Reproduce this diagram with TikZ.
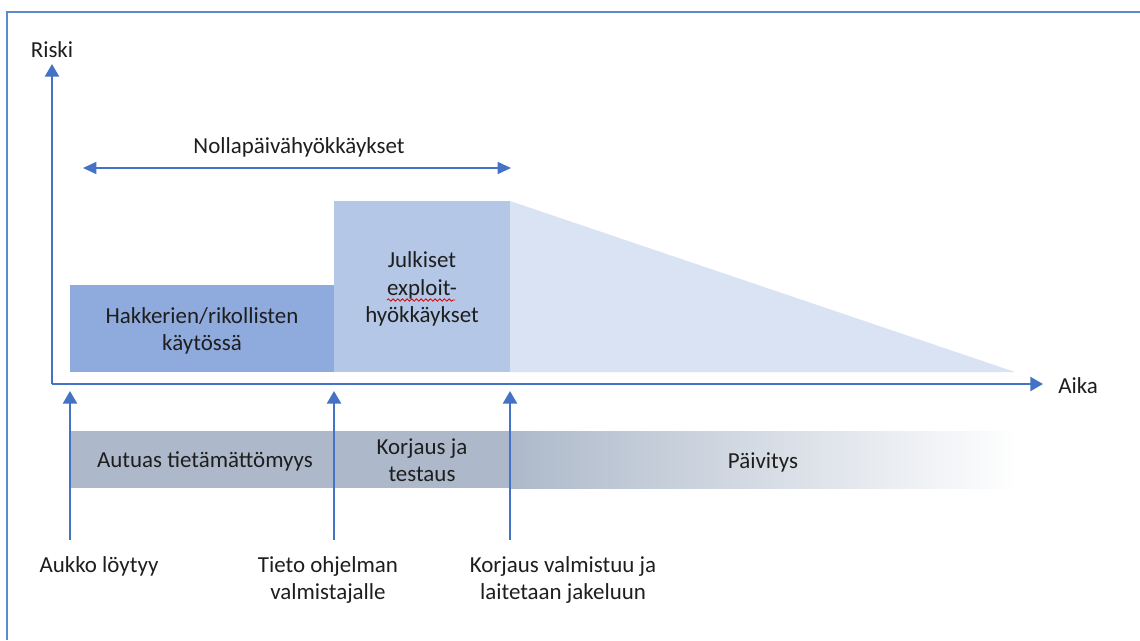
\documentclass[tikz,border=0pt]{standalone}
\usepackage{fontspec}
\setmainfont{Carlito}
\usetikzlibrary{arrows.meta,decorations.pathmorphing}
\definecolor{axisblue}{HTML}{4472C4}
\definecolor{frameblue}{HTML}{5B8BD0}
\definecolor{boxA}{HTML}{8FAADC}
\definecolor{boxB}{HTML}{B4C7E7}
\definecolor{boxC}{HTML}{DAE3F3}
\definecolor{bandgray}{HTML}{ADB9CA}
\definecolor{txt}{HTML}{1E1E1E}
\begin{document}
\begin{tikzpicture}[x=0.75pt,y=-0.75pt,
  lbl/.style={font=\fontsize{17.2}{20.5}\selectfont, text=txt, align=center, inner sep=0pt},
  axisline/.style={draw=axisblue, line width=1.8pt},
  bigtip/.style={-{Triangle[width=10.5pt,length=9.5pt]}},
  blockbox/.style={inner sep=0pt, anchor=north west}]
\useasboundingbox (0,0) rectangle (1140,640);
\fill[white] (0,0) rectangle (1140,640);
% frame
\draw[frameblue, line width=1.5pt] (7,640) -- (7,12) -- (1140,12);
% shapes
\fill[boxC] (510,201) -- (1015,372) -- (510,372) -- cycle;
\node[blockbox, fill=boxA, minimum width=264*0.75pt, minimum height=87*0.75pt] (hak) at (70,285) {};
\node[lbl] (haktext) at (202,331) {Hakkerien/rikollisten\\käytössä};
\node[blockbox, fill=boxB, minimum width=176*0.75pt, minimum height=171*0.75pt] (jul) at (334,201) {};
\node[lbl] (jultext) at (422,289) {Julkiset\\exploit-\\hyökkäykset};
\draw[red!85!black, line width=0.6pt, decorate, decoration={snake, amplitude=0.9pt, segment length=3.5pt}] (387,300) -- (455,300);
% axes
\coordinate (O) at (52,384);
\coordinate (ytop) at (52,64);
\coordinate (xend) at (1043,384);
\draw[axisline, bigtip] (O) -- (ytop);
\draw[axisline, bigtip] (O) -- (xend);
\node[lbl] (riski) at (52,50) {Riski};
\node[lbl, anchor=west] (aika) at (1058,386) {Aika};
% zero-day arrow
\coordinate (zl) at (83,168);
\coordinate (zr) at (511,168);
\draw[draw=axisblue, line width=1.1pt, {Triangle[width=9pt,length=10pt]}-{Triangle[width=9pt,length=10pt]}] (zl) -- (zr);
\node[lbl] (nolla) at (299,147) {Nollapäivähyökkäykset};
% band
\fill[bandgray] (70,431) rectangle (510,488);
\shade[left color=bandgray, right color=white] (510,431) rectangle (1020,488);
\node[lbl] (autuas) at (205,461) {Autuas tietämättömyys};
\node[lbl] (korj) at (422,460) {Korjaus ja\\testaus};
\node[lbl] (paiv) at (763,462) {Päivitys};
% vertical event arrows
\coordinate (e1b) at (70,540); \coordinate (e1t) at (70,391);
\coordinate (e2b) at (334,540); \coordinate (e2t) at (334,391);
\coordinate (e3b) at (510,540); \coordinate (e3t) at (510,391);
\draw[axisline, bigtip] (e1b) -- (e1t);
\draw[axisline, bigtip] (e2b) -- (e2t);
\draw[axisline, bigtip] (e3b) -- (e3t);
\node[lbl, anchor=north] (aukko) at (99,556) {Aukko löytyy};
\node[lbl, anchor=north] (tieto) at (328,556) {Tieto ohjelman\\valmistajalle};
\node[lbl, anchor=north] (valm) at (563,556) {Korjaus valmistuu ja\\laitetaan jakeluun};
\end{tikzpicture}
\end{document}
